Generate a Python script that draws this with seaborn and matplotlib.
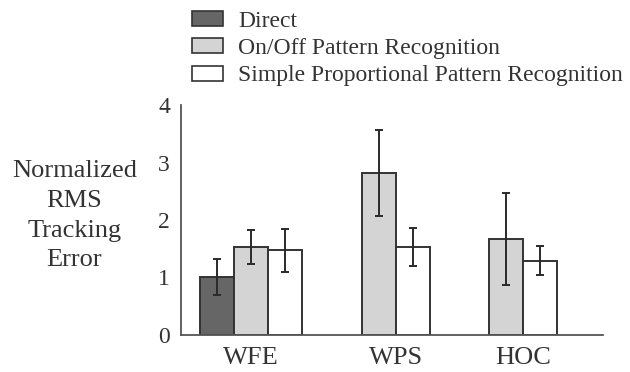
import numpy as np
import pandas as pd
import seaborn as sns
import matplotlib
matplotlib.use("Agg")
import matplotlib.pyplot as plt
from matplotlib.patches import Patch

# ---- data ----
groups = ["WFE", "WFE", "WFE", "WPS", "WPS", "HOC", "HOC"]
methods = ["Direct", "On/Off Pattern Recognition", "Simple Proportional Pattern Recognition",
           "On/Off Pattern Recognition", "Simple Proportional Pattern Recognition",
           "On/Off Pattern Recognition", "Simple Proportional Pattern Recognition"]
values = [1.01, 1.53, 1.47, 2.82, 1.53, 1.67, 1.29]
errors = [0.31, 0.30, 0.38, 0.75, 0.33, 0.80, 0.25]
group_order = ["WFE", "WPS", "HOC"]
method_order = ["Direct", "On/Off Pattern Recognition", "Simple Proportional Pattern Recognition"]
yticks = [0, 1, 2, 3, 4]

colors = {"Direct": "#666666",
          "On/Off Pattern Recognition": "#d4d4d4",
          "Simple Proportional Pattern Recognition": "#ffffff"}

df = pd.DataFrame({"group": groups, "method": methods, "value": values, "err": errors})

sns.set_theme(style="white")
plt.rcParams["font.family"] = ["Liberation Serif", "DejaVu Serif"]
text_color = "#333333"

fig = plt.figure(figsize=(6.3, 3.72), dpi=100)
ax = fig.add_axes([0.2873, 0.0995, 0.6697, 0.6182])

sns.barplot(data=df, x="group", y="value", hue="method", order=group_order,
            hue_order=method_order, palette=colors, errorbar=None, dodge=True,
            width=0.8, edgecolor="#333333", linewidth=1.4, saturation=1,
            legend=False, ax=ax)

# error bars at the bar centres
centers_by_group = {g: [] for g in group_order}
for cont, m in zip(ax.containers, method_order):
    present = [g for g in group_order if g in set(df[df.method == m].group)]
    sub = df[df.method == m].set_index("group").reindex(present)
    for bar, (g, row) in zip(cont, sub.iterrows()):
        cx = bar.get_x() + bar.get_width() / 2
        centers_by_group[g].append(cx)
        ax.errorbar(cx, row["value"], yerr=row["err"], fmt="none", ecolor="#2a2a2a",
                    elinewidth=1.4, capsize=2.8, capthick=1.4, zorder=5)

ax.set_xticks([np.mean(centers_by_group[g]) for g in group_order])
ax.set_xticklabels(group_order, fontsize=19, color=text_color)
ax.set_xlim(-0.55, 2.76)
ax.set_ylim(0, 4)
ax.set_yticks(yticks)
ax.set_yticklabels([str(t) for t in yticks], fontsize=17, color=text_color)
ax.tick_params(axis="both", length=0)
ax.tick_params(axis="y", pad=8)
ax.tick_params(axis="x", pad=9)
ax.set_xlabel("")
ax.set_ylabel("")
for s in ["top", "right"]:
    ax.spines[s].set_visible(False)
for s in ["left", "bottom"]:
    ax.spines[s].set_color("#555555")
    ax.spines[s].set_linewidth(1.3)

fig.text(0.118, 0.42, "Normalized\nRMS\nTracking\nError", ha="center", va="center",
         fontsize=19, color=text_color, linespacing=1.45)

handles = [Patch(facecolor=colors[m], edgecolor="#333333", linewidth=1.2) for m in method_order]
fig.legend(handles, method_order, loc="upper left", bbox_to_anchor=(0.297, 0.984),
           frameon=False, fontsize=17, handlelength=1.3, handleheight=0.6,
           handletextpad=0.65, labelspacing=0.27, borderaxespad=0, borderpad=0.2,
           labelcolor=text_color)

fig.savefig("out.png", dpi=100, facecolor="white")
